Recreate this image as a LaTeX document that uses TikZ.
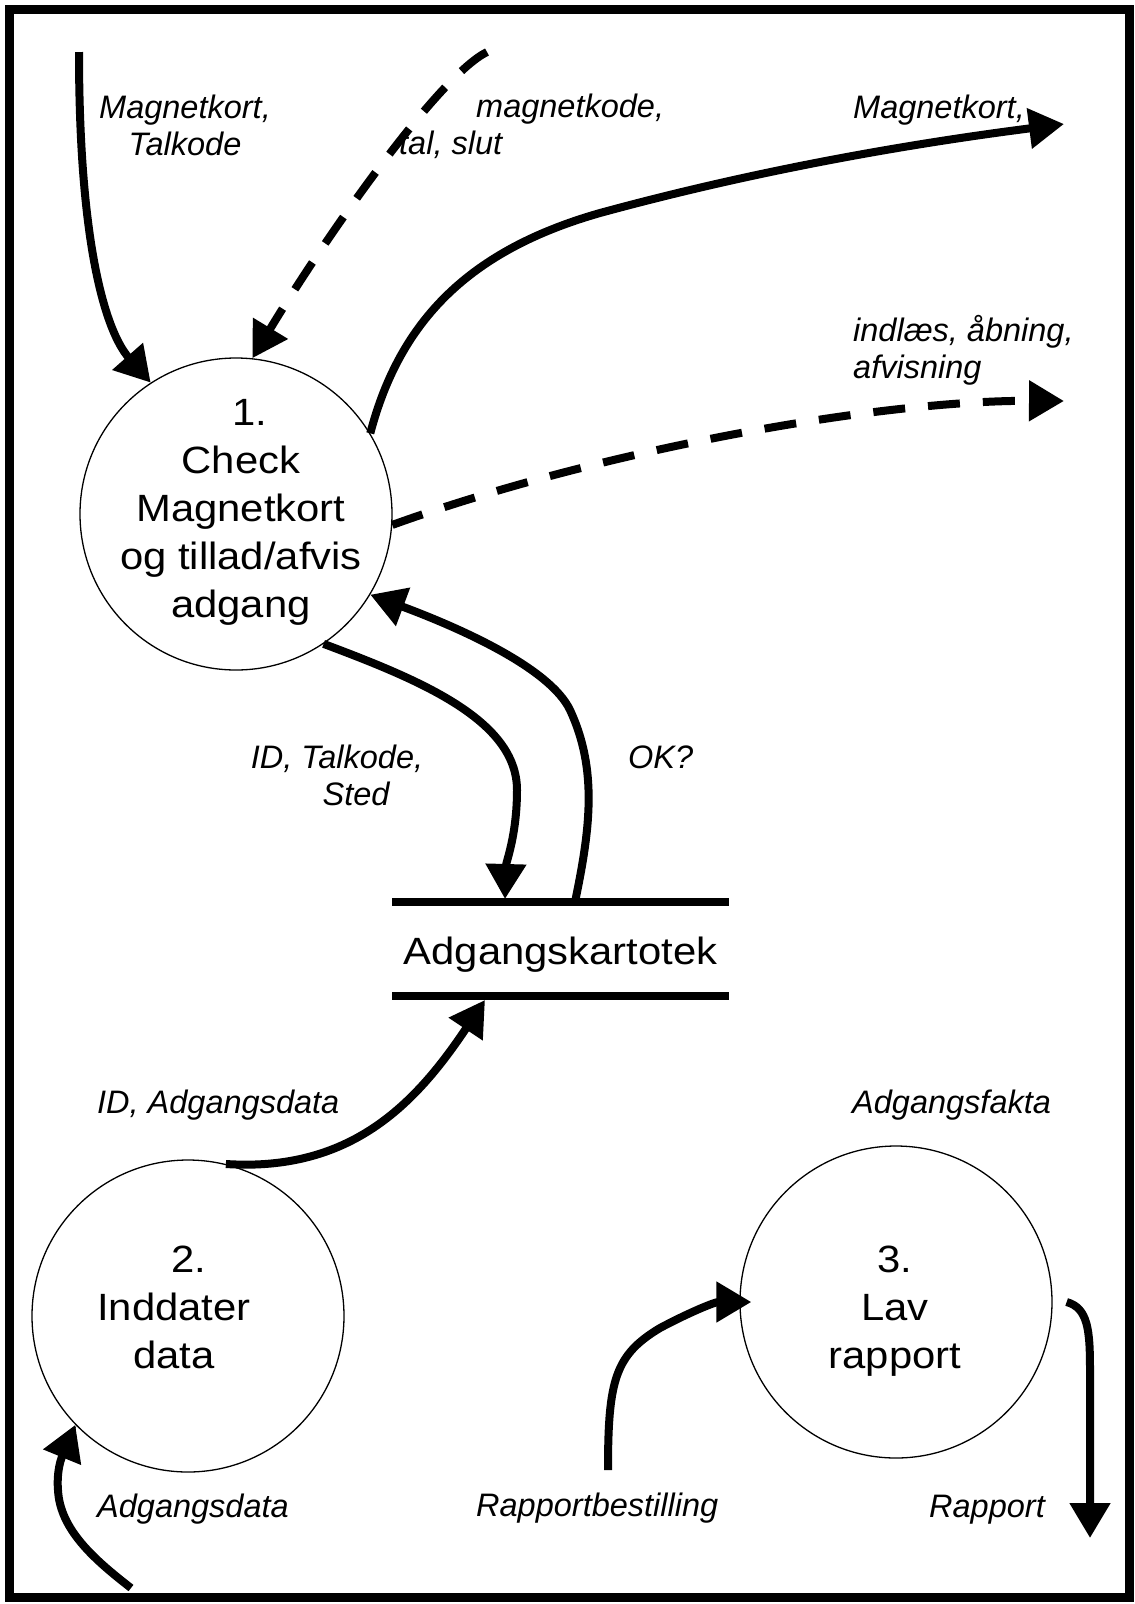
\documentclass[tikz,border=0pt]{standalone}
\usepackage{fontspec}
\setmainfont{Liberation Sans}
\newfontfamily\bubblefont{Liberation Sans}[FakeStretch=1.1]
\usetikzlibrary{arrows.meta}

\begin{document}
\begin{tikzpicture}[x=1pt,y=-1pt,
  proc/.style={circle, draw, line width=1.3pt, minimum size=312pt, inner sep=0pt},
  proctext/.style={font=\bubblefont\fontsize{38}{48}\selectfont, align=center, inner sep=0pt, anchor=north},
  storebox/.style={font=\bubblefont\fontsize{38}{48}\selectfont, minimum width=337pt, minimum height=94pt,
                   inner sep=0pt, outer sep=0pt, text height=34pt, text depth=4pt},
  storeline/.style={line width=8pt},
  flowlabel/.style={font=\fontsize{32.5}{37}\selectfont\itshape, inner sep=0pt},
  dataflow/.style={line width=8pt, -{Triangle[length=35pt,width=39pt]}},
  ctrlflow/.style={dataflow, dash pattern=on 32pt off 23pt},
]
\useasboundingbox (0,0) rectangle (1135,1604);
\draw[line width=9pt] (9.5,9.5) rectangle (1129,1597);

% processes
\node[proc] (p1) at (236,514) {};
\node[proc] (p2) at (188,1316) {};
\node[proc] (p3) at (896,1302) {};
\node[proctext] (t1) at (241,391.4) {\strut\hspace*{18pt}1.\\\strut Check\\\strut Magnetkort\\\strut og tillad/afvis\\\strut adgang};
\node[proctext] (t2) at (174,1238.4) {\strut\hspace*{30pt}2.\\\strut Inddater\\\strut data};
\node[proctext] (t3) at (895,1238.4) {\strut 3.\\\strut Lav\\\strut rapport};

% data store
\node[storebox] (kart) at (560.5,949) {Adgangskartotek};
\draw[storeline] (kart.north west) -- (kart.north east);
\draw[storeline] (kart.south west) -- (kart.south east);

% free ends of the flows
\coordinate (inKort) at (79,52);
\coordinate (inKode) at (487,52);
\coordinate (outKort) at (1064,124);
\coordinate (outSignal) at (1064,401);
\coordinate (inData) at (131,1588);
\coordinate (inOrder) at (608,1470);
\coordinate (rapOut) at (1090,1538);

% flows around process 1
\draw[dataflow] (inKort) .. controls (79,250) and (107,333) .. (p1.123.5);
\draw[ctrlflow] (inKode) .. controls (440,75) and (330,230) .. (p1.84.7);
\draw[dataflow] (p1.31.5) .. controls (400,320) and (470,250) .. (600,213)
                .. controls (750,172) and (900,145) .. (outKort);
\draw[ctrlflow] (p1.-4.7) .. controls (600,450) and (880,400) .. (outSignal);
\draw[dataflow] (p1.-56.1) .. controls (420,680) and (517,720) .. (517,790)
                .. controls (517,835) and (506,862) .. ([xshift=113pt,yshift=3pt]kart.north west);
\draw[dataflow] ([xshift=183pt]kart.north west) .. controls (590,830) and (598,770) .. (570,710)
                .. controls (550,668) and (460,628) .. (p1.-31.8);

% flows around process 2
\draw[dataflow] (p2.76.2) .. controls (350,1172) and (415,1105) .. ([xshift=93pt,yshift=-4pt]kart.south west);
\draw[dataflow] (inData) .. controls (95,1560) and (60,1530) .. (58,1490)
                .. controls (56,1465) and (65,1450) .. (p2.224.5);

% flows around process 3
\draw[dataflow] (inOrder) .. controls (608,1380) and (615,1355) .. (660,1328)
                .. controls (690,1312) and (715,1302) .. ([xshift=12pt]p3.west);
\draw[dataflow] ([xshift=14pt]p3.east) .. controls (1088,1308) and (1090,1330) .. (1090,1370) -- (rapOut);

% flow labels
\node[flowlabel, align=center, anchor=north] (lKortIn) at (185,92.1) {\strut Magnetkort,\\\strut Talkode};
\node[flowlabel, align=left, anchor=north west] (lKodeIn) at (399,91.1) {\strut\hspace*{77pt}magnetkode,\\\strut tal, slut};
\node[flowlabel, anchor=base west] (lKortOut) at (853,118) {Magnetkort,};
\node[flowlabel, align=left, anchor=north west] (lSignal) at (853,315.1) {\strut indlæs, åbning,\\\strut afvisning};
\node[flowlabel, align=center, anchor=north] (lQuery) at (337,742.1) {\strut ID, Talkode,\\\strut\hspace*{38pt}Sted};
\node[flowlabel, anchor=base west] (lOk) at (628,768) {OK?};
\node[flowlabel, anchor=base west] (lUpdate) at (97,1113) {ID, Adgangsdata};
\node[flowlabel, anchor=base west] (lFacts) at (852,1113) {Adgangsfakta};
\node[flowlabel, anchor=base west] (lData) at (97,1517) {Adgangsdata};
\node[flowlabel, anchor=base west] (lOrder) at (476,1516) {Rapportbestilling};
\node[flowlabel, anchor=base west] (lReport) at (929,1517) {Rapport};
\end{tikzpicture}
\end{document}
